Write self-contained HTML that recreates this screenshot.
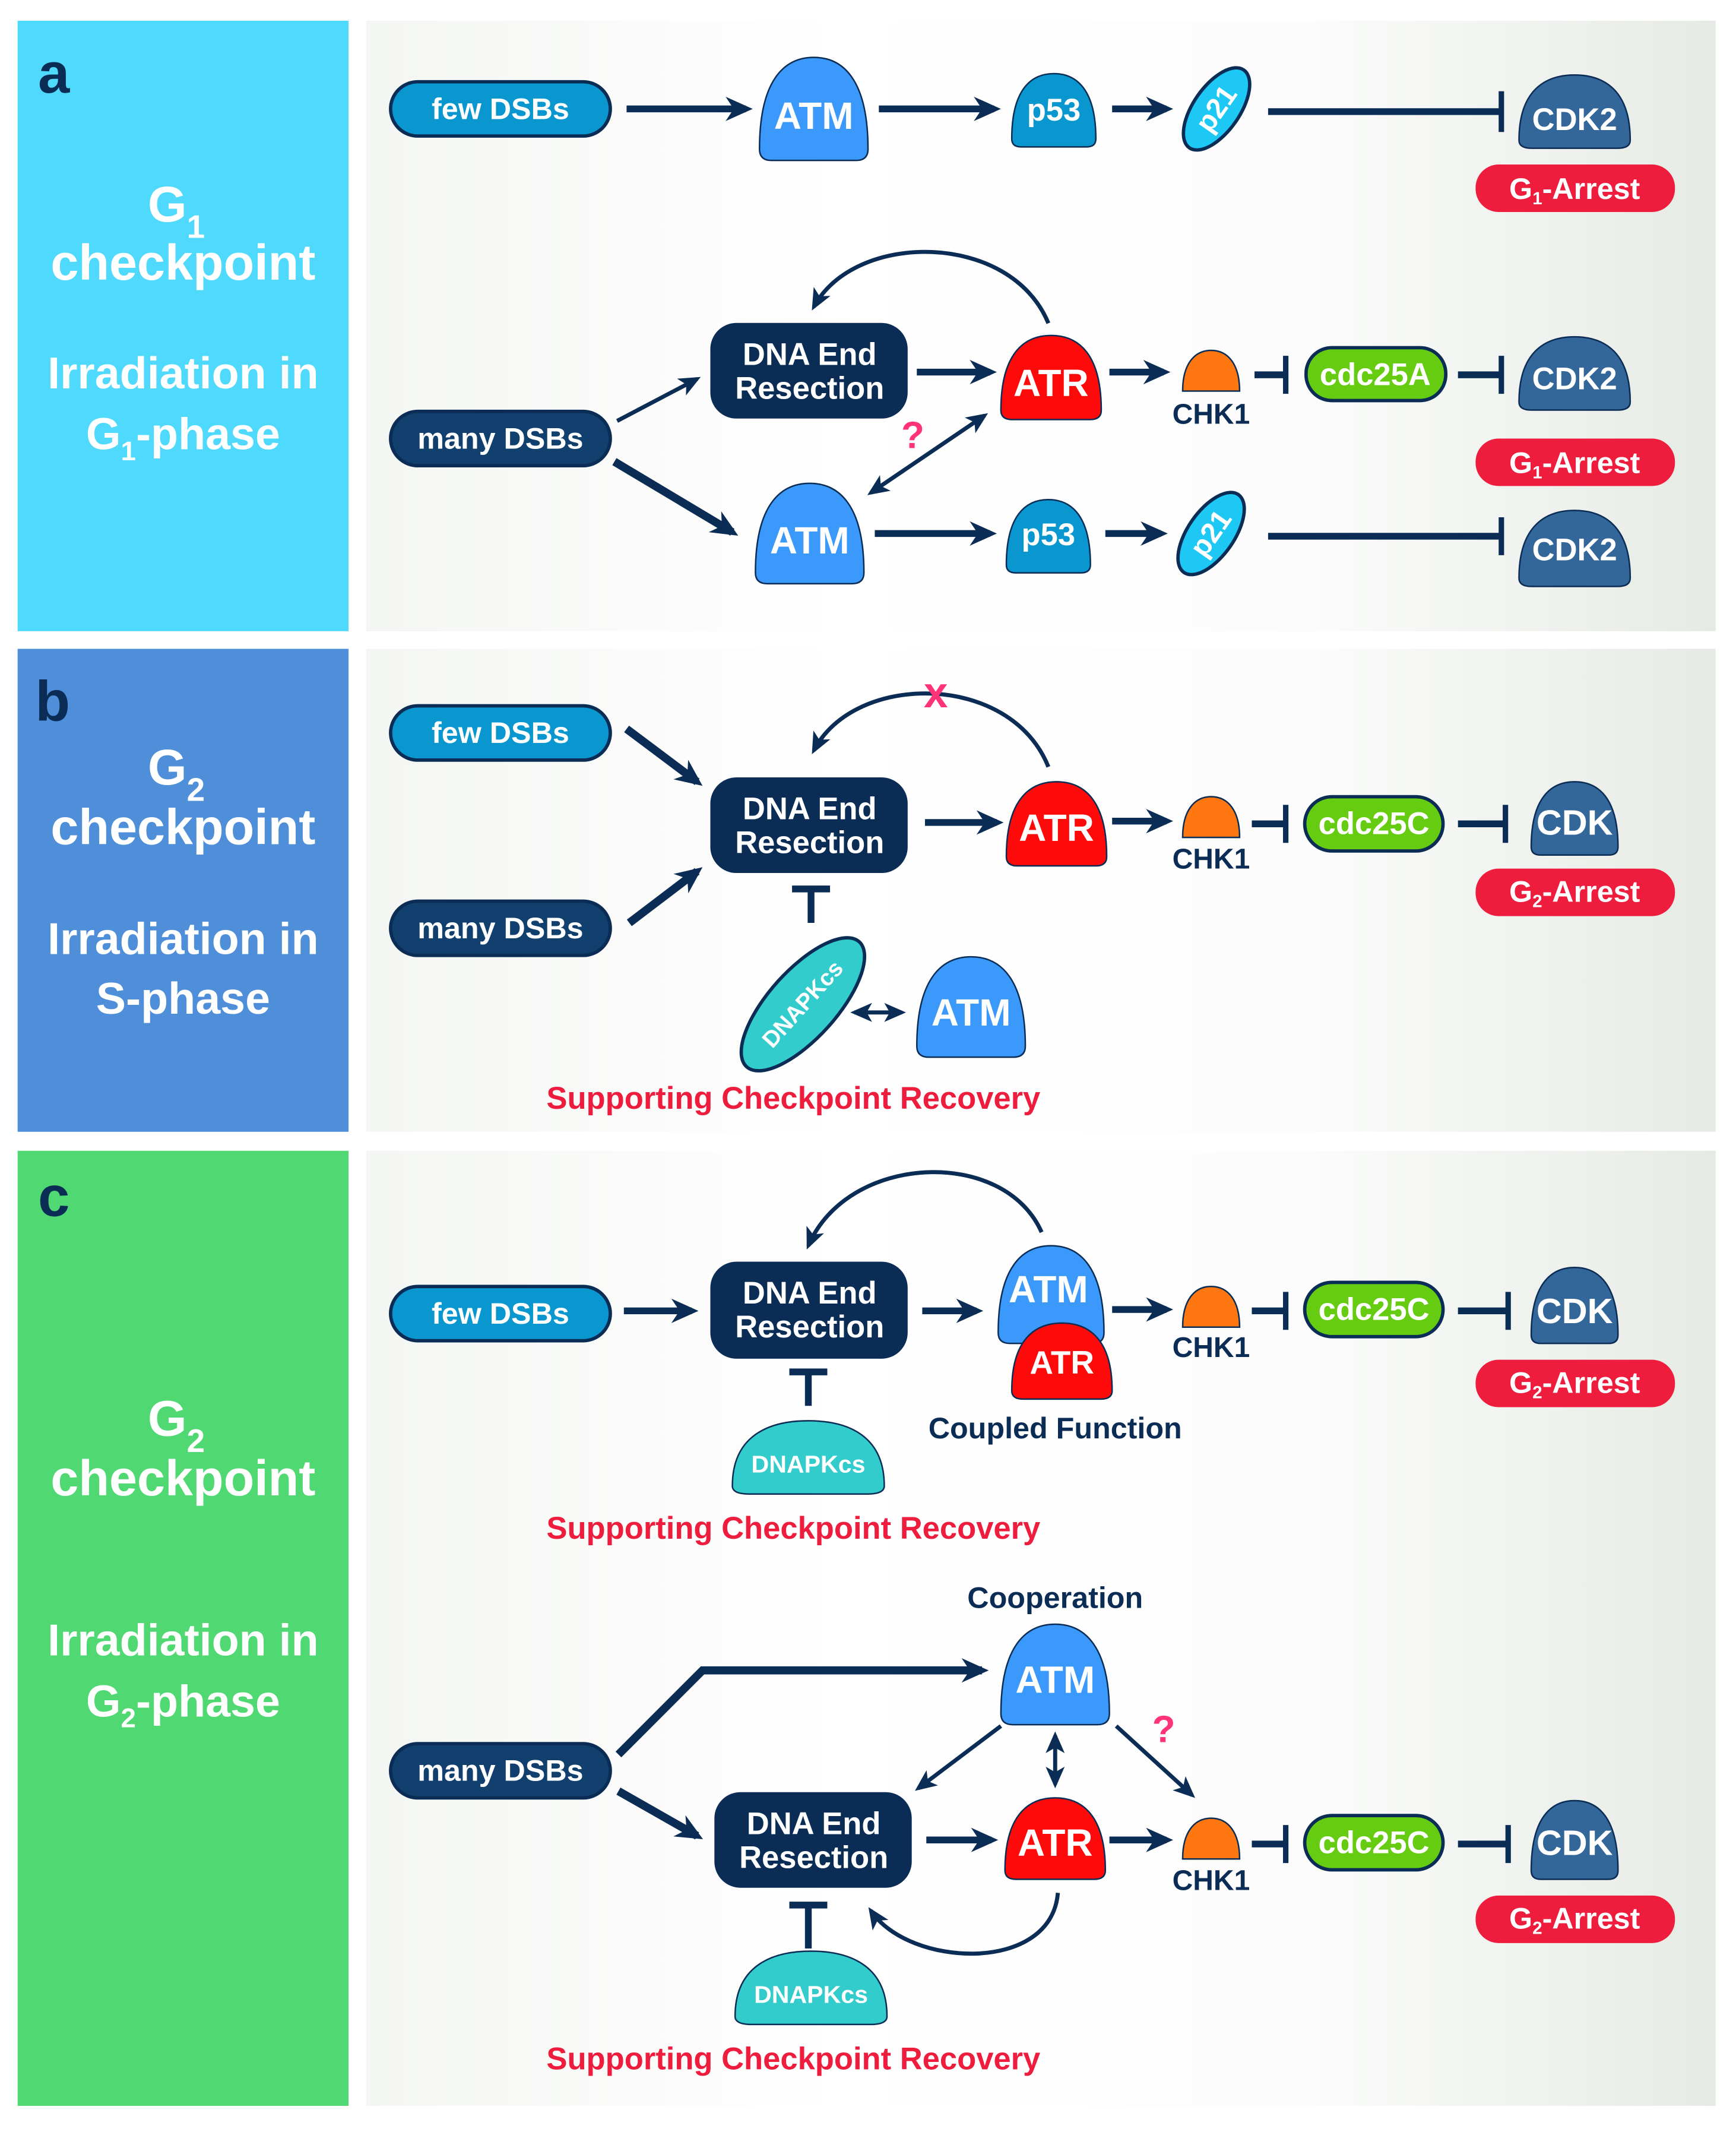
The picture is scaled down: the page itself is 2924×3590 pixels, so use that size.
<!DOCTYPE html>
<html><head><meta charset="utf-8"><style>
html,body{margin:0;padding:0;background:#fff}
svg{display:block}
text{font-family:"Liberation Sans",Arial,sans-serif;font-weight:bold}
</style></head><body>
<svg width="2924" height="3590" viewBox="0 0 1280 1571" xmlns="http://www.w3.org/2000/svg">
<defs>
<linearGradient id="bg" x1="0" x2="1" y1="0" y2="0">
<stop offset="0" stop-color="#f4f6f3"/><stop offset="0.35" stop-color="#ffffff"/><stop offset="0.7" stop-color="#fbfcfb"/><stop offset="1" stop-color="#e6eae4"/></linearGradient>
<marker id="a" markerWidth="20" markerHeight="20" refX="15" refY="10" orient="auto" markerUnits="userSpaceOnUse"><path d="M0,1 L20,10 L0,19 L6,10Z" fill="#0b2d55"/></marker>
<marker id="s" markerWidth="16" markerHeight="16" refX="13" refY="8" orient="auto-start-reverse" markerUnits="userSpaceOnUse"><path d="M0,1 L16,8 L0,15 L4,8Z" fill="#0b2d55"/></marker>
</defs>

<rect x="13" y="15" width="244" height="450" fill="#4fd9fc"/>
<rect x="13" y="478" width="244" height="356" fill="#4f8fda"/>
<rect x="13" y="848" width="244" height="704" fill="#50d873"/>
<rect x="270" y="15" width="995" height="450" fill="url(#bg)"/>
<rect x="270" y="478" width="995" height="356" fill="url(#bg)"/>
<rect x="270" y="848" width="995" height="704" fill="url(#bg)"/>

<g fill="#0b2d55" font-size="42"><text x="28" y="68">a</text><text x="26" y="531">b</text><text x="28" y="896">c</text></g>
<g fill="#fff" font-size="37" text-anchor="middle">
<text x="130" y="163">G<tspan font-size="24" dy="12">1</tspan></text><text x="135" y="206">checkpoint</text>
<text x="135" y="286" font-size="33">Irradiation in</text><text x="135" y="331" font-size="33">G<tspan font-size="20" dy="8">1</tspan><tspan dy="-8">-phase</tspan></text>
<text x="130" y="578">G<tspan font-size="24" dy="12">2</tspan></text><text x="135" y="622">checkpoint</text>
<text x="135" y="703" font-size="33">Irradiation in</text><text x="135" y="747" font-size="33">S-phase</text>
<text x="130" y="1058">G<tspan font-size="24" dy="12">2</tspan></text><text x="135" y="1102">checkpoint</text>
<text x="135" y="1220" font-size="33">Irradiation in</text><text x="135" y="1265" font-size="33">G<tspan font-size="20" dy="8">2</tspan><tspan dy="-8">-phase</tspan></text>
</g>

<g stroke="#0b2d55" fill="none" stroke-width="5">
<line x1="462" y1="80" x2="550" y2="80" marker-end="url(#a)"/>
<line x1="648" y1="80" x2="733" y2="80" marker-end="url(#a)"/>
<line x1="820" y1="80" x2="860" y2="80" marker-end="url(#a)"/>
<line x1="935" y1="82" x2="1107" y2="82"/><line x1="1107" y1="67" x2="1107" y2="97" stroke-width="4"/>
<line x1="676" y1="274" x2="730" y2="274" marker-end="url(#a)"/>
<line x1="818" y1="274" x2="858" y2="274" marker-end="url(#a)"/>
<line x1="925" y1="276" x2="948" y2="276"/><line x1="948" y1="262" x2="948" y2="290" stroke-width="4"/>
<line x1="1075" y1="276" x2="1107" y2="276"/><line x1="1107" y1="262" x2="1107" y2="290" stroke-width="4"/>
<path d="M773,238 C745,170 630,170 600,226" stroke-width="3" marker-end="url(#s)"/>
<line x1="455" y1="310" x2="514" y2="279" stroke-width="3" marker-end="url(#s)"/>
<line x1="453" y1="340" x2="540" y2="392" stroke-width="6" marker-end="url(#a)"/>
<line x1="642" y1="363" x2="726" y2="306" stroke-width="3" marker-start="url(#s)" marker-end="url(#s)"/>
<line x1="645" y1="393" x2="730" y2="393" marker-end="url(#a)"/>
<line x1="815" y1="393" x2="856" y2="393" marker-end="url(#a)"/>
<line x1="935" y1="395" x2="1107" y2="395"/><line x1="1107" y1="381" x2="1107" y2="409" stroke-width="4"/>
<line x1="462" y1="537" x2="514" y2="576" stroke-width="6" marker-end="url(#a)"/>
<line x1="464" y1="680" x2="514" y2="642" stroke-width="6" marker-end="url(#a)"/>
<line x1="598" y1="680" x2="598" y2="655"/><line x1="584" y1="655" x2="612" y2="655" stroke-width="5"/>
<line x1="682" y1="606" x2="735" y2="606" marker-end="url(#a)"/>
<path d="M773,565 C745,495 630,495 600,553" stroke-width="3" marker-end="url(#s)"/>
<line x1="820" y1="605" x2="860" y2="605" marker-end="url(#a)"/>
<line x1="923" y1="607" x2="948" y2="607"/><line x1="948" y1="593" x2="948" y2="621" stroke-width="4"/>
<line x1="1075" y1="607" x2="1110" y2="607"/><line x1="1110" y1="593" x2="1110" y2="621" stroke-width="4"/>
<line x1="630" y1="746" x2="665" y2="746" stroke-width="3" marker-start="url(#s)" marker-end="url(#s)"/>
<line x1="460" y1="966" x2="510" y2="966" marker-end="url(#a)"/>
<line x1="596" y1="1036" x2="596" y2="1011"/><line x1="582" y1="1011" x2="610" y2="1011" stroke-width="5"/>
<line x1="680" y1="966" x2="720" y2="966" marker-end="url(#a)"/>
<path d="M768,908 C740,845 625,850 596,918" stroke-width="3" marker-end="url(#s)"/>
<line x1="820" y1="965" x2="860" y2="965" marker-end="url(#a)"/>
<line x1="923" y1="966" x2="948" y2="966"/><line x1="948" y1="952" x2="948" y2="980" stroke-width="4"/>
<line x1="1075" y1="966" x2="1112" y2="966"/><line x1="1112" y1="952" x2="1112" y2="980" stroke-width="4"/>
<path d="M456,1293 L518,1231 L724,1231" stroke-width="6" marker-end="url(#a)"/>
<line x1="456" y1="1320" x2="514" y2="1353" stroke-width="6" marker-end="url(#a)"/>
<line x1="683" y1="1356" x2="731" y2="1356" marker-end="url(#a)"/>
<line x1="818" y1="1356" x2="860" y2="1356" marker-end="url(#a)"/>
<line x1="923" y1="1359" x2="948" y2="1359"/><line x1="948" y1="1345" x2="948" y2="1373" stroke-width="4"/>
<line x1="1075" y1="1359" x2="1112" y2="1359"/><line x1="1112" y1="1345" x2="1112" y2="1373" stroke-width="4"/>
<line x1="738" y1="1272" x2="677" y2="1318" stroke-width="3" marker-end="url(#s)"/>
<line x1="778" y1="1279" x2="778" y2="1315" stroke-width="3" marker-start="url(#s)" marker-end="url(#s)"/>
<line x1="823" y1="1272" x2="879" y2="1323" stroke-width="3" marker-end="url(#s)"/>
<path d="M780,1395 C775,1455 670,1450 642,1408" stroke-width="3" marker-end="url(#s)"/>
<line x1="596" y1="1436" x2="596" y2="1404"/><line x1="582" y1="1404" x2="610" y2="1404" stroke-width="5"/>
</g>

<g stroke="#0b2d55" stroke-width="2.5">
<rect x="288" y="60" width="162" height="40" rx="20" fill="#0a97cf"/>
<rect x="288" y="303" width="162" height="40" rx="20" fill="#12406e"/>
<rect x="288" y="520" width="162" height="40" rx="20" fill="#0a97cf"/>
<rect x="288" y="664" width="162" height="40" rx="20" fill="#12406e"/>
<rect x="288" y="948" width="162" height="40" rx="20" fill="#0a97cf"/>
<rect x="288" y="1285" width="162" height="40" rx="20" fill="#12406e"/>
<rect x="525" y="239" width="143" height="68" rx="18" fill="#0b2d55"/>
<rect x="525" y="574" width="143" height="68" rx="18" fill="#0b2d55"/>
<rect x="525" y="931" width="143" height="69" rx="18" fill="#0b2d55"/>
<rect x="528" y="1322" width="143" height="68" rx="18" fill="#0b2d55"/>
<rect x="963" y="256" width="103" height="39" rx="19" fill="#66cc11"/>
<rect x="962" y="587" width="102" height="40" rx="20" fill="#66cc11"/>
<rect x="962" y="945" width="102" height="40" rx="20" fill="#66cc11"/>
<rect x="962" y="1338" width="102" height="40" rx="20" fill="#66cc11"/>
</g>
<g fill="#ee1c3d">
<rect x="1088" y="121" width="147" height="35" rx="17"/>
<rect x="1088" y="323" width="147" height="35" rx="17"/>
<rect x="1088" y="640" width="147" height="35" rx="17"/>
<rect x="1088" y="1002" width="147" height="35" rx="17"/>
<rect x="1088" y="1397" width="147" height="35" rx="17"/>
</g>

<g stroke="#0b2d55" stroke-width="2.5">
<path d="M-1,0.78 C-1,-0.55 -0.55,-1 0,-1 C0.55,-1 1,-0.55 1,0.78 Q1,1 0.78,1 L-0.78,1 Q-1,1 -1,0.78Z" vector-effect="non-scaling-stroke" transform="translate(600,80) scale(40,38)" fill="#3a99fb"/>
<path d="M-1,0.78 C-1,-0.55 -0.55,-1 0,-1 C0.55,-1 1,-0.55 1,0.78 Q1,1 0.78,1 L-0.78,1 Q-1,1 -1,0.78Z" vector-effect="non-scaling-stroke" transform="translate(777,81) scale(31,27)" fill="#0a97cf"/>
<path d="M-1,0.78 C-1,-0.55 -0.55,-1 0,-1 C0.55,-1 1,-0.55 1,0.78 Q1,1 0.78,1 L-0.78,1 Q-1,1 -1,0.78Z" vector-effect="non-scaling-stroke" transform="translate(1161,82) scale(41,27)" fill="#336699"/>
<path d="M-1,0.78 C-1,-0.55 -0.55,-1 0,-1 C0.55,-1 1,-0.55 1,0.78 Q1,1 0.78,1 L-0.78,1 Q-1,1 -1,0.78Z" vector-effect="non-scaling-stroke" transform="translate(775,278) scale(37,31)" fill="#ff0a0a"/>
<path d="M-1,0.78 C-1,-0.55 -0.55,-1 0,-1 C0.55,-1 1,-0.55 1,0.78 Q1,1 0.78,1 L-0.78,1 Q-1,1 -1,0.78Z" vector-effect="non-scaling-stroke" transform="translate(1161,275) scale(41,27)" fill="#336699"/>
<path d="M-1,0.78 C-1,-0.55 -0.55,-1 0,-1 C0.55,-1 1,-0.55 1,0.78 Q1,1 0.78,1 L-0.78,1 Q-1,1 -1,0.78Z" vector-effect="non-scaling-stroke" transform="translate(597,393) scale(40,37)" fill="#3a99fb"/>
<path d="M-1,0.78 C-1,-0.55 -0.55,-1 0,-1 C0.55,-1 1,-0.55 1,0.78 Q1,1 0.78,1 L-0.78,1 Q-1,1 -1,0.78Z" vector-effect="non-scaling-stroke" transform="translate(773,395) scale(31,27)" fill="#0a97cf"/>
<path d="M-1,0.78 C-1,-0.55 -0.55,-1 0,-1 C0.55,-1 1,-0.55 1,0.78 Q1,1 0.78,1 L-0.78,1 Q-1,1 -1,0.78Z" vector-effect="non-scaling-stroke" transform="translate(1161,404) scale(41,28)" fill="#336699"/>
<path d="M-1,0.78 C-1,-0.55 -0.55,-1 0,-1 C0.55,-1 1,-0.55 1,0.78 Q1,1 0.78,1 L-0.78,1 Q-1,1 -1,0.78Z" vector-effect="non-scaling-stroke" transform="translate(779,607) scale(37,31)" fill="#ff0a0a"/>
<path d="M-1,0.78 C-1,-0.55 -0.55,-1 0,-1 C0.55,-1 1,-0.55 1,0.78 Q1,1 0.78,1 L-0.78,1 Q-1,1 -1,0.78Z" vector-effect="non-scaling-stroke" transform="translate(1161,603) scale(32,27)" fill="#336699"/>
<path d="M-1,0.78 C-1,-0.55 -0.55,-1 0,-1 C0.55,-1 1,-0.55 1,0.78 Q1,1 0.78,1 L-0.78,1 Q-1,1 -1,0.78Z" vector-effect="non-scaling-stroke" transform="translate(716,742) scale(40,37)" fill="#3a99fb"/>
<path d="M-1,0.78 C-1,-0.55 -0.55,-1 0,-1 C0.55,-1 1,-0.55 1,0.78 Q1,1 0.78,1 L-0.78,1 Q-1,1 -1,0.78Z" vector-effect="non-scaling-stroke" transform="translate(775,954) scale(39,36)" fill="#3a99fb"/>
<path d="M-1,0.78 C-1,-0.55 -0.55,-1 0,-1 C0.55,-1 1,-0.55 1,0.78 Q1,1 0.78,1 L-0.78,1 Q-1,1 -1,0.78Z" vector-effect="non-scaling-stroke" transform="translate(783,1003) scale(37,28)" fill="#ff0a0a"/>
<path d="M-1,0.78 C-1,-0.55 -0.55,-1 0,-1 C0.55,-1 1,-0.55 1,0.78 Q1,1 0.78,1 L-0.78,1 Q-1,1 -1,0.78Z" vector-effect="non-scaling-stroke" transform="translate(1161,962) scale(32,28)" fill="#336699"/>
<path d="M-1,0.78 C-1,-0.55 -0.55,-1 0,-1 C0.55,-1 1,-0.55 1,0.78 Q1,1 0.78,1 L-0.78,1 Q-1,1 -1,0.78Z" vector-effect="non-scaling-stroke" transform="translate(596,1074) scale(56,27)" fill="#33cccc"/>
<path d="M-1,0.78 C-1,-0.55 -0.55,-1 0,-1 C0.55,-1 1,-0.55 1,0.78 Q1,1 0.78,1 L-0.78,1 Q-1,1 -1,0.78Z" vector-effect="non-scaling-stroke" transform="translate(778,1234) scale(40,37)" fill="#3a99fb"/>
<path d="M-1,0.78 C-1,-0.55 -0.55,-1 0,-1 C0.55,-1 1,-0.55 1,0.78 Q1,1 0.78,1 L-0.78,1 Q-1,1 -1,0.78Z" vector-effect="non-scaling-stroke" transform="translate(778,1355) scale(37,30)" fill="#ff0a0a"/>
<path d="M-1,0.78 C-1,-0.55 -0.55,-1 0,-1 C0.55,-1 1,-0.55 1,0.78 Q1,1 0.78,1 L-0.78,1 Q-1,1 -1,0.78Z" vector-effect="non-scaling-stroke" transform="translate(1161,1356) scale(32,29)" fill="#336699"/>
<path d="M-1,0.78 C-1,-0.55 -0.55,-1 0,-1 C0.55,-1 1,-0.55 1,0.78 Q1,1 0.78,1 L-0.78,1 Q-1,1 -1,0.78Z" vector-effect="non-scaling-stroke" transform="translate(598,1465) scale(56,27)" fill="#33cccc"/>
<path d="M-1,1 C-1,-0.3 -0.6,-1 0,-1 C0.6,-1 1,-0.3 1,1 Z" vector-effect="non-scaling-stroke" transform="translate(893,273) scale(21,15)" fill="#ff7711"/>
<path d="M-1,1 C-1,-0.3 -0.6,-1 0,-1 C0.6,-1 1,-0.3 1,1 Z" vector-effect="non-scaling-stroke" transform="translate(893,602) scale(21,15)" fill="#ff7711"/>
<path d="M-1,1 C-1,-0.3 -0.6,-1 0,-1 C0.6,-1 1,-0.3 1,1 Z" vector-effect="non-scaling-stroke" transform="translate(893,963) scale(21,15)" fill="#ff7711"/>
<path d="M-1,1 C-1,-0.3 -0.6,-1 0,-1 C0.6,-1 1,-0.3 1,1 Z" vector-effect="non-scaling-stroke" transform="translate(893,1355) scale(21,15)" fill="#ff7711"/>
<ellipse cx="897" cy="80" rx="35" ry="17" transform="rotate(-55 897 80)" fill="#1ec8f5"/>
<ellipse cx="893" cy="393" rx="35" ry="17" transform="rotate(-55 893 393)" fill="#1ec8f5"/>
<ellipse cx="592" cy="740" rx="62" ry="25" transform="rotate(-48 592 740)" fill="#33cccc"/>
</g>

<g fill="#fff" text-anchor="middle" dominant-baseline="central">
<g font-size="22">
<text x="369" y="80">few DSBs</text><text x="369" y="323">many DSBs</text>
<text x="369" y="540">few DSBs</text><text x="369" y="684">many DSBs</text>
<text x="369" y="968">few DSBs</text><text x="369" y="1305">many DSBs</text>
</g>
<g font-size="23">
<text x="597" y="261">DNA End</text><text x="597" y="286">Resection</text>
<text x="597" y="596">DNA End</text><text x="597" y="621">Resection</text>
<text x="597" y="953">DNA End</text><text x="597" y="978">Resection</text>
<text x="600" y="1344">DNA End</text><text x="600" y="1369">Resection</text>
</g>
<g font-size="28">
<text x="600" y="85">ATM</text><text x="597" y="398">ATM</text><text x="716" y="746">ATM</text>
<text x="773" y="950">ATM</text><text x="778" y="1238">ATM</text>
<text x="775" y="282">ATR</text><text x="779" y="610">ATR</text><text x="778" y="1358">ATR</text>
</g>
<text x="783" y="1004" font-size="24">ATR</text>
<g font-size="23">
<text x="777" y="81">p53</text><text x="773" y="394">p53</text>
<text x="1161" y="88">CDK2</text><text x="1161" y="279">CDK2</text><text x="1161" y="405">CDK2</text>
<text x="1161" y="606" font-size="26">CDK</text><text x="1161" y="966" font-size="26">CDK</text><text x="1161" y="1358" font-size="26">CDK</text>
<text x="1014" y="276">cdc25A</text><text x="1013" y="607">cdc25C</text><text x="1013" y="965">cdc25C</text><text x="1013" y="1358">cdc25C</text>
</g>
<g font-size="22">
<text x="1161" y="139">G<tspan font-size="13" dy="7">1</tspan><tspan dy="-7">-Arrest</tspan></text>
<text x="1161" y="341">G<tspan font-size="13" dy="7">1</tspan><tspan dy="-7">-Arrest</tspan></text>
<text x="1161" y="657">G<tspan font-size="13" dy="7">2</tspan><tspan dy="-7">-Arrest</tspan></text>
<text x="1161" y="1019">G<tspan font-size="13" dy="7">2</tspan><tspan dy="-7">-Arrest</tspan></text>
<text x="1161" y="1414">G<tspan font-size="13" dy="7">2</tspan><tspan dy="-7">-Arrest</tspan></text>
</g>
<text x="897" y="80" font-size="21" transform="rotate(-55 897 80)">p21</text>
<text x="893" y="393" font-size="21" transform="rotate(-55 893 393)">p21</text>
<text x="592" y="740" font-size="17" transform="rotate(-48 592 740)">DNAPKcs</text>
<text x="596" y="1079" font-size="18">DNAPKcs</text>
<text x="598" y="1470" font-size="18">DNAPKcs</text>
</g>

<g fill="#0b2d55" text-anchor="middle" font-size="21">
<text x="893" y="312">CHK1</text><text x="893" y="640">CHK1</text><text x="893" y="1000">CHK1</text><text x="893" y="1393">CHK1</text>
<text x="778" y="1060" font-size="22">Coupled Function</text>
<text x="778" y="1185" font-size="22">Cooperation</text>
</g>
<g fill="#ee1c3d" text-anchor="middle" font-size="23">
<text x="585" y="817">Supporting Checkpoint Recovery</text>
<text x="585" y="1134">Supporting Checkpoint Recovery</text>
<text x="585" y="1525">Supporting Checkpoint Recovery</text>
</g>
<g fill="#ff3377" font-size="28" text-anchor="middle">
<text x="673" y="330">?</text><text x="858" y="1284">?</text>
<text x="690" y="521" font-size="32">x</text>
</g>
</svg>
</body></html>
